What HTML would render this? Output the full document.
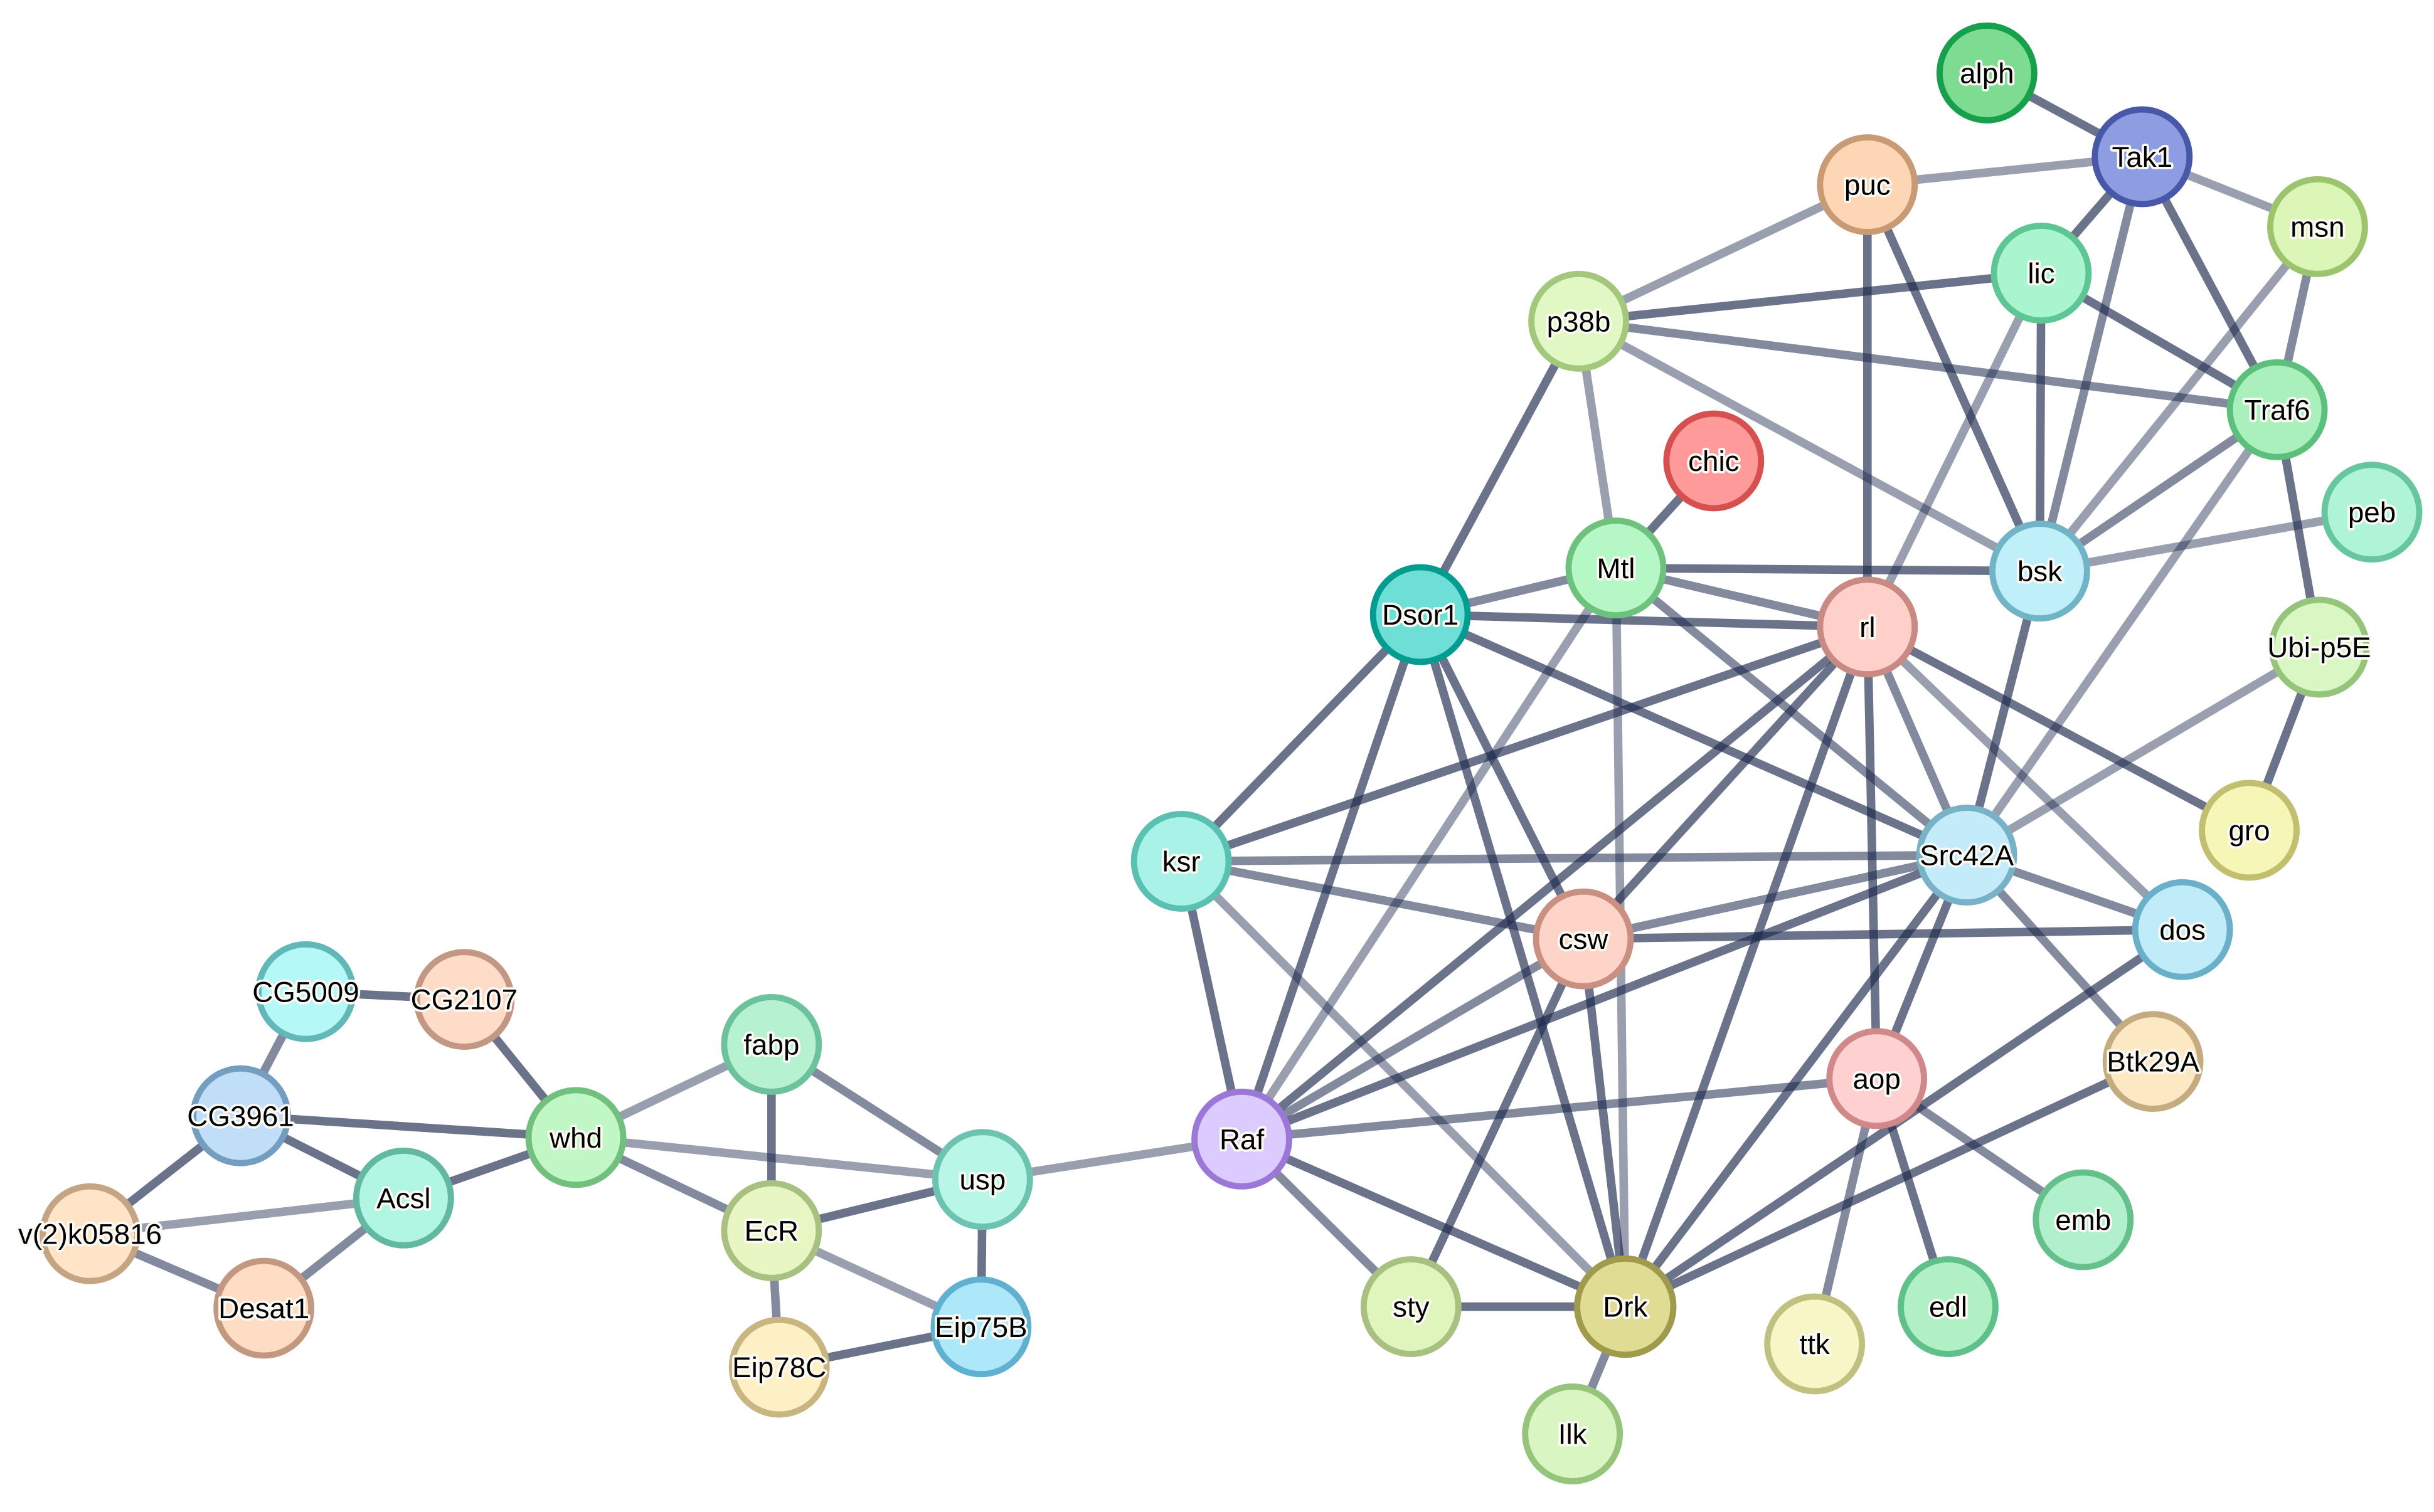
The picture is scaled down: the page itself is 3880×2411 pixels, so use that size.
<!DOCTYPE html>
<html><head><meta charset="utf-8"><style>html,body{margin:0;padding:0;background:#fff}svg{display:block}</style></head><body>
<svg width="3880" height="2411" viewBox="0 0 1568 974.3" xmlns="http://www.w3.org/2000/svg">
<rect width="1568" height="975" fill="#fff"/>
<g stroke="#1e2a4e" stroke-width="5.5" stroke-linecap="butt" fill="none" id="edges"></g>
<g id="nodes"></g>
<script>
var N={alph:[1280,47,'#7ddc92','#17a04c'],Tak1:[1380,101,'#8e9ce2','#4858a8'],puc:[1203,119,'#fdd6b6','#c99b75'],msn:[1493,146,'#dcf6b8','#9cc46c'],lic:[1315,176,'#a9f5cf','#5ec694'],p38b:[1017,207,'#e1f7c4','#a3c87c'],Traf6:[1467,264,'#a9f0bd','#5dbf7c'],chic:[1104,297,'#ff9a9a','#d65050'],peb:[1528,330,'#b0f4d8','#68c69e'],Mtl:[1041,366,'#b6f7c6','#6ec27e'],bsk:[1314,368,'#bff0fa','#70b4c6'],Dsor1:[915,396,'#6ddfd6','#049c90'],rl:[1203,404,'#ffd0ca','#c98a84'],"Ubi-p5E":[1494,417,'#d8f7c2','#96c47a'],gro:[1449,535,'#f6f6b6','#c2c070'],ksr:[761,555,'#a9f2e8','#5ac0b2'],Src42A:[1267,551,'#c3ebf9','#78b2c6'],csw:[1020,605,'#ffd4c8','#c98f80'],dos:[1406,599,'#c0ecfa','#6ab0c8'],CG5009:[197,639,'#b4f8f8','#62b8b8'],CG2107:[299,644,'#ffdcc8','#c29884'],fabp:[497,673,'#b6f2d2','#6cc29c'],aop:[1209,695,'#ffd0d0','#d08888'],Btk29A:[1387,684,'#fde8c4','#c4ac80'],CG3961:[155,719,'#c0def8','#749ec0'],whd:[371,733,'#c0f7c4','#72c07e'],Raf:[800,734,'#dccbff','#9b78d8'],usp:[633,760,'#b8f6e8','#6ec2b0'],Acsl:[260,772,'#b0f6e2','#62b8a0'],emb:[1342,786,'#b0f0cc','#65c08c'],EcR:[497,793,'#e8f6c4','#a8c080'],"v(2)k05816":[58,795,'#ffe4c8','#c4a482'],Desat1:[170,843,'#ffdcc4','#c29880'],sty:[909,842,'#e0f5bc','#a8c080'],Drk:[1047,842,'#e0dc94','#a09a4c'],edl:[1255,842,'#b0f0c4','#60c08a'],Eip75B:[632,855,'#ace8fa','#60b0d0'],ttk:[1169,866,'#f6f6c6','#c0c080'],Eip78C:[502,881,'#fdf0c4','#c9b580'],Ilk:[1013,924,'#d8f5c2','#96c47a']};
var D=0.66,M=0.55,L=0.45;
var E=[['alph','Tak1',D],['puc','Tak1',L],['Tak1','msn',L],['Tak1','lic',D],['Tak1','Traf6',D],['Tak1','bsk',M],['puc','p38b',L],['puc','rl',D],['puc','bsk',D],['p38b','lic',D],['p38b','Traf6',M],['p38b','bsk',L],['p38b','Mtl',L],['p38b','Dsor1',D],['lic','Traf6',D],['lic','bsk',D],['lic','rl',L],['msn','Traf6',M],['msn','bsk',L],['Traf6','bsk',M],['Traf6','Ubi-p5E',D],['Traf6','Src42A',L],['peb','bsk',L],['chic','Mtl',D],['Mtl','bsk',D],['Mtl','Dsor1',M],['Mtl','rl',M],['Mtl','Src42A',M],['Mtl','Drk',L],['Mtl','Raf',L],['bsk','Src42A',D],['Dsor1','rl',D],['Dsor1','Src42A',D],['Dsor1','ksr',D],['Dsor1','Raf',D],['Dsor1','csw',D],['Dsor1','Drk',D],['rl','ksr',D],['rl','csw',D],['rl','Raf',D],['rl','Drk',D],['rl','aop',D],['rl','Src42A',M],['rl','gro',D],['rl','dos',L],['Ubi-p5E','gro',D],['Ubi-p5E','Src42A',L],['ksr','Src42A',M],['ksr','csw',M],['ksr','Raf',D],['ksr','Drk',L],['Src42A','csw',M],['Src42A','Raf',D],['Src42A','Drk',D],['Src42A','aop',D],['Src42A','Btk29A',M],['Src42A','dos',M],['csw','dos',D],['csw','Raf',M],['csw','Drk',D],['csw','sty',D],['dos','Drk',D],['Btk29A','Drk',D],['aop','Raf',M],['aop','emb',M],['aop','edl',D],['aop','ttk',M],['Raf','Drk',D],['Raf','sty',M],['Raf','usp',L],['Drk','sty',D],['Drk','Ilk',M],['usp','fabp',M],['usp','EcR',D],['usp','Eip75B',D],['usp','whd',L],['EcR','fabp',D],['EcR','whd',M],['EcR','Eip75B',L],['EcR','Eip78C',M],['Eip78C','Eip75B',D],['whd','fabp',L],['whd','CG3961',D],['whd','Acsl',D],['whd','CG2107',D],['CG5009','CG2107',D],['CG5009','CG3961',M],['CG3961','Acsl',D],['CG3961','v(2)k05816',D],['v(2)k05816','Acsl',L],['v(2)k05816','Desat1',M],['Acsl','Desat1',M]];
var ns='http://www.w3.org/2000/svg',ge=document.getElementById('edges'),gn=document.getElementById('nodes');
E.forEach(function(e){var a=N[e[0]],b=N[e[1]],l=document.createElementNS(ns,'line');l.setAttribute('x1',a[0]);l.setAttribute('y1',a[1]);l.setAttribute('x2',b[0]);l.setAttribute('y2',b[1]);l.setAttribute('stroke-opacity',e[2]);ge.appendChild(l);});
for(var k in N){var n=N[k],c=document.createElementNS(ns,'circle');c.setAttribute('cx',n[0]);c.setAttribute('cy',n[1]);c.setAttribute('r',k=='Drk'?31:30.5);c.setAttribute('fill',n[2]);c.setAttribute('stroke',n[3]);c.setAttribute('stroke-width',4);gn.appendChild(c);
var t=document.createElementNS(ns,'text');t.setAttribute('x',n[0]);t.setAttribute('y',n[1]+6.5);t.setAttribute('text-anchor','middle');t.setAttribute('font-family','Liberation Sans, Arial, sans-serif');t.setAttribute('font-size','18.5');t.setAttribute('fill','#000');t.setAttribute('stroke','#fbfaf5');t.setAttribute('stroke-width','3');t.setAttribute('paint-order','stroke');t.setAttribute('stroke-linejoin','round');t.textContent=k;gn.appendChild(t);}
</script>
</svg>
</body></html>
